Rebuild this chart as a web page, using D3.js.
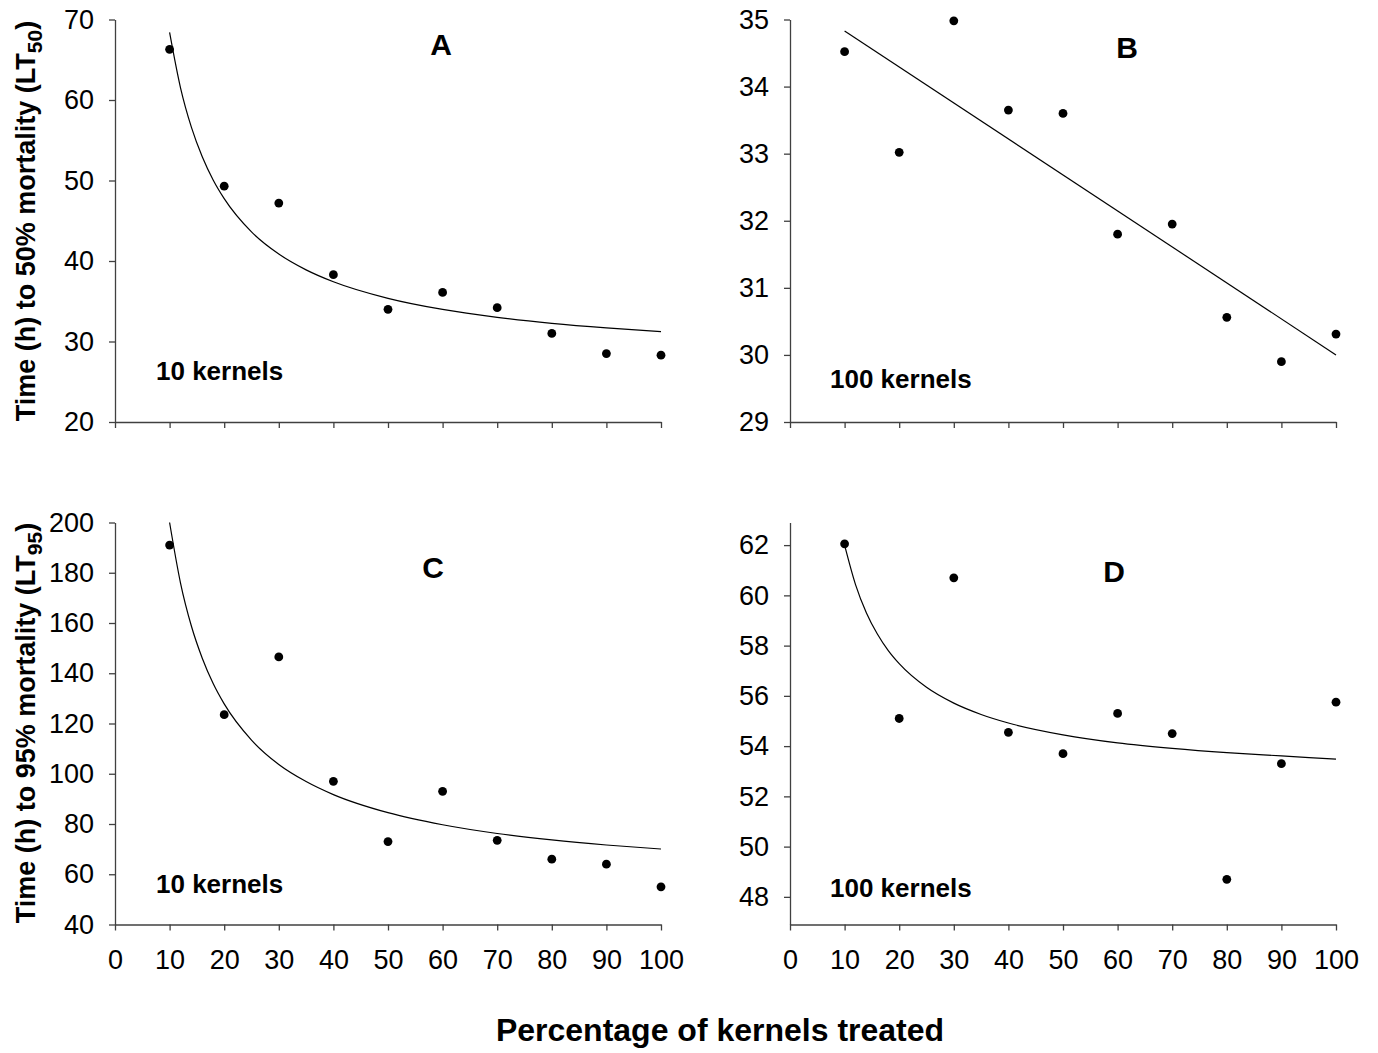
<!DOCTYPE html>
<html lang="en">
<head>
  <meta charset="UTF-8" />
  <title>LT50 / LT95 vs percentage of kernels treated</title>
  <script src="https://cdn.jsdelivr.net/npm/d3@7"></script>
  <style>
    body { margin: 0; background: #fff; }
    svg text { font-family: "Liberation Sans", Arial, sans-serif; fill: #000; }
    .axis path, .axis line { stroke: #404040; stroke-width: 1.3; }
    .axis text { font-size: 27px; }
    .fit { fill: none; stroke: #000; stroke-width: 1.2; }
    .bold { font-weight: bold; }
  </style>
</head>
<body>
  <svg id="fig" width="1378" height="1053"></svg>

  <script>
    // percentage of kernels treated
    let pctTreated = [10, 20, 30, 40, 50, 60, 70, 80, 90, 100];

    let lt50_10k = [66.3, 49.3, 47.2, 38.3, 34.0, 36.1, 34.2, 31.0, 28.5, 28.3];
    let lt50_100k = [34.52, 33.02, 34.98, 33.65, 33.6, 31.8, 31.95, 30.56, 29.9, 30.31];
    let lt95_10k = [191, 123.5, 146.5, 97, 73, 93, 73.5, 66, 64, 55];
    let lt95_100k = [62.05, 55.1, 60.7, 54.55, 53.7, 55.3, 54.5, 48.7, 53.3, 55.75];

    // fitted lines, sampled off the figure
    let fitX = [10, 12, 14, 16, 18, 20, 25, 30, 35, 40, 50, 60, 70, 80, 90, 100];
    let fitA = [68.4, 61.52, 56.6, 52.92, 50.04, 47.75, 43.62, 40.87, 38.9, 37.42, 35.36, 33.98, 33.0, 32.26, 31.69, 31.23];
    let fitBx = [10, 100];
    let fitB = [34.83, 30.0];
    let fitC = [200, 175.9, 158.7, 145.9, 135.8, 127.8, 113.4, 103.7, 96.9, 91.7, 84.5, 79.7, 76.23, 73.65, 71.64, 70.04];
    let fitD = [62.0, 60.43, 59.3, 58.46, 57.8, 57.28, 56.34, 55.71, 55.26, 54.92, 54.45, 54.13, 53.91, 53.74, 53.61, 53.48];

    let xTicks = [0, 10, 20, 30, 40, 50, 60, 70, 80, 90, 100];

    let panels = [
      { id: "A", ys: lt50_10k, fx: fitX, fy: fitA, dom: [20, 70], ticks: d3.range(20, 71, 10),
        left: 115, top: 19.5, w: 546, h: 402.5, note: "10 kernels", xLabels: false,
        lab: [441, 55], noteAt: [156, 380] },
      { id: "B", ys: lt50_100k, fx: fitBx, fy: fitB, dom: [29, 35], ticks: d3.range(29, 36, 1),
        left: 790, top: 19.5, w: 546, h: 402.5, note: "100 kernels", xLabels: false,
        lab: [1127, 58], noteAt: [830, 388] },
      { id: "C", ys: lt95_10k, fx: fitX, fy: fitC, dom: [40, 200], ticks: d3.range(40, 201, 20),
        left: 115, top: 522.5, w: 546, h: 402, note: "10 kernels", xLabels: true,
        lab: [433, 578], noteAt: [156, 893] },
      { id: "D", ys: lt95_100k, fx: fitX, fy: fitD, dom: [46.9, 62.9], ticks: d3.range(48, 63, 2),
        left: 790, top: 522.5, w: 546, h: 402, note: "100 kernels", xLabels: true,
        lab: [1114, 582], noteAt: [830, 897] }
    ];

    let svg = d3.select("#fig");

    panels.forEach(function (p) {
      let g = svg.append("g").attr("transform", "translate(" + p.left + "," + p.top + ")");
      let x = d3.scaleLinear().domain([0, 100]).range([0, p.w]);
      let y = d3.scaleLinear().domain(p.dom).range([p.h, 0]);

      // axes
      let xAxis = d3.axisBottom(x).tickValues(xTicks).tickSizeInner(6).tickSizeOuter(0).tickPadding(19);
      if (!p.xLabels) xAxis.tickFormat("");
      g.append("g").attr("class", "axis").attr("transform", "translate(0," + p.h + ")").call(xAxis);

      let yAxis = d3.axisLeft(y).tickValues(p.ticks).tickFormat(d3.format("d"))
        .tickSizeInner(6).tickSizeOuter(0).tickPadding(15);
      g.append("g").attr("class", "axis").call(yAxis);

      // fitted line
      let line = d3.line()
        .x(function (d) { return x(d[0]); })
        .y(function (d) { return y(d[1]); })
        .curve(d3.curveMonotoneX);
      g.append("path")
        .attr("class", "fit")
        .attr("d", line(d3.zip(p.fx, p.fy)));

      // points
      g.selectAll("circle")
        .data(d3.zip(pctTreated, p.ys))
        .join("circle")
        .attr("cx", function (d) { return x(d[0]); })
        .attr("cy", function (d) { return y(d[1]); })
        .attr("r", 4.4)
        .attr("fill", "#000");

      // panel letter and kernel note
      svg.append("text")
        .attr("class", "bold")
        .attr("x", p.lab[0])
        .attr("y", p.lab[1])
        .attr("text-anchor", "middle")
        .style("font-size", "30px")
        .text(p.id);
      svg.append("text")
        .attr("class", "bold")
        .attr("x", p.noteAt[0])
        .attr("y", p.noteAt[1])
        .style("font-size", "26px")
        .text(p.note);
    });

    // y axis titles with subscript
    function yTitle(cy, pct, sub) {
      let t = svg.append("text")
        .attr("class", "bold")
        .attr("transform", "translate(35," + cy + ") rotate(-90)")
        .attr("text-anchor", "middle")
        .style("font-size", "27px");
      t.append("tspan").text("Time (h) to " + pct + "% mortality (LT");
      t.append("tspan").attr("dy", 7).style("font-size", "21px").text(sub);
      t.append("tspan").attr("dy", -7).text(")");
    }
    yTitle(221, 50, "50");
    yTitle(723, 95, "95");

    svg.append("text")
      .attr("class", "bold")
      .attr("x", 720)
      .attr("y", 1041)
      .attr("text-anchor", "middle")
      .style("font-size", "32px")
      .text("Percentage of kernels treated");
  </script>
</body>
</html>
